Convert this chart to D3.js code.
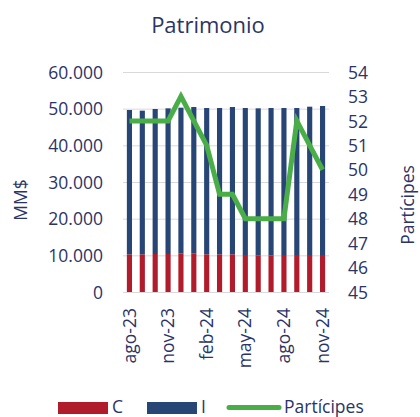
<!DOCTYPE html>
<html>
<head>
<meta charset="utf-8">
<script src="https://cdn.jsdelivr.net/npm/d3@7"></script>
<style>
  body { margin: 0; background: #fff; }
  text { font-family: "Open Sans", sans-serif; fill: #2b3467; }
  .grid line { stroke: #d9d9d9; stroke-width: 1; }
</style>
</head>
<body>
<svg id="svg"></svg>
<script>
// data
months = ["ago-23","sep-23","oct-23","nov-23","dic-23","ene-24","feb-24","mar-24",
          "abr-24","may-24","jun-24","jul-24","ago-24","sep-24","oct-24","nov-24"];
seriesC = [10270,10270,10360,10360,10450,10450,10270,10270,10270,10090,9910,10000,10090,10090,10090,10090];
seriesI = [39370,39190,39550,39730,39820,40000,39910,39910,40180,40090,40180,40180,40090,40090,40450,40640];
participes = [52,52,52,52,53,52,51,49,49,48,48,48,48,52,51,50];
leftTicks = [0,10000,20000,30000,40000,50000,60000];
rightTicks = [45,46,47,48,49,50,51,52,53,54];
tickLabels = ["ago-23","nov-23","feb-24","may-24","ago-24","nov-24"];

var W = 420, H = 417;
var x0 = 123, x1 = 329, yTop = 72, yBot = 292;
var fs = "17.5px";

svg = d3.select("#svg").attr("width", W).attr("height", H);

var x = d3.scaleBand().domain(months).range([x0, x1]).paddingInner(0.6).paddingOuter(0.3);
var yL = d3.scaleLinear().domain([0, 60000]).range([yBot, yTop]);
var yR = d3.scaleLinear().domain([45, 54]).range([yBot, yTop]);
var fmt = d3.formatLocale({decimal: ",", thousands: ".", grouping: [3], currency: ["", ""]}).format(",");

// title
svg.append("text").attr("x", 208).attr("y", 33).attr("text-anchor", "middle")
   .style("font-size", "22px").text("Patrimonio");

// gridlines
svg.append("g").attr("class", "grid")
   .selectAll("line").data(leftTicks).enter().append("line")
   .attr("x1", x0).attr("x2", x1)
   .attr("y1", d => yL(d) + 0.5).attr("y2", d => yL(d) + 0.5);

// stacked bars
var stackData = months.map((m, i) => ({month: m, C: seriesC[i], I: seriesI[i]}));
var stack = d3.stack().keys(["C", "I"])(stackData);
var colors = {C: "#b01c2b", I: "#284675"};

svg.append("g").selectAll("g").data(stack).enter().append("g")
   .attr("fill", d => colors[d.key])
   .selectAll("rect").data(d => d).enter().append("rect")
   .attr("x", d => x(d.data.month))
   .attr("width", x.bandwidth())
   .attr("y", d => yL(d[1]))
   .attr("height", d => yL(d[0]) - yL(d[1]));

// line
var line = d3.line()
   .x((d, i) => x(months[i]) + x.bandwidth() / 2)
   .y(d => yR(d));
svg.append("path").datum(participes)
   .attr("d", line).attr("fill", "none")
   .attr("stroke", "#4aae48").attr("stroke-width", 5)
   .attr("stroke-linejoin", "miter");

// left axis
var axL = svg.append("g").attr("transform", "translate(" + (x0 - 20) + ",0)")
   .call(d3.axisLeft(yL).tickValues(leftTicks).tickSize(0).tickFormat(fmt));
axL.select(".domain").remove();
axL.selectAll("text").style("font-size", fs).attr("dy", "0.35em").attr("x", 0);

// right axis
var axR = svg.append("g").attr("transform", "translate(" + (x1 + 19) + ",0)")
   .call(d3.axisRight(yR).tickValues(rightTicks).tickSize(0));
axR.select(".domain").remove();
axR.selectAll("text").style("font-size", fs).attr("dy", "0.35em").attr("x", 0);

// x axis
var axX = svg.append("g").attr("transform", "translate(0," + (yBot + 16) + ")")
   .call(d3.axisBottom(x).tickValues(tickLabels).tickSize(0));
axX.select(".domain").remove();
axX.selectAll("text").style("font-size", fs)
   .attr("text-anchor", "end").attr("transform", "rotate(-90)")
   .attr("x", 0).attr("y", 0).attr("dy", "0.35em");

// axis titles
svg.append("text").attr("transform", "translate(27,200) rotate(-90)")
   .attr("text-anchor", "middle").style("font-size", fs).text("MM$");
svg.append("text").attr("transform", "translate(414,205) rotate(-90)")
   .attr("text-anchor", "middle").style("font-size", fs).text("Partícipes");

// legend
var legend = [
  {label: "C", type: "rect", color: colors.C, x: 58, tx: 112},
  {label: "I", type: "rect", color: colors.I, x: 147, tx: 201},
  {label: "Partícipes", type: "line", color: "#4aae48", x: 227, tx: 284}
];
var lg = svg.append("g");
legend.forEach(d => {
  if (d.type === "rect") {
    lg.append("rect").attr("x", d.x).attr("y", 402).attr("width", 50).attr("height", 12).attr("fill", d.color);
  } else {
    lg.append("line").attr("x1", d.x + 2).attr("x2", d.x + 52).attr("y1", 407.5).attr("y2", 407.5)
      .attr("stroke", d.color).attr("stroke-width", 5).attr("stroke-linecap", "round");
  }
  lg.append("text").attr("x", d.tx).attr("y", 413).style("font-size", fs).text(d.label);
});
</script>
</body>
</html>
